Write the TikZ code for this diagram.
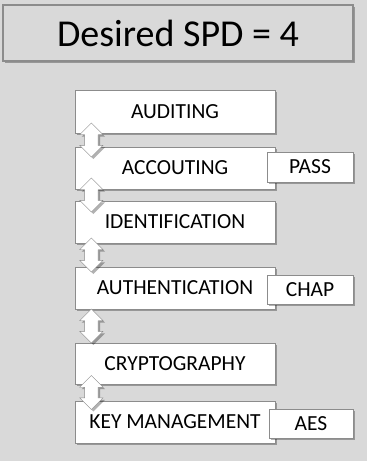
\documentclass[tikz,border=0pt]{standalone}
\usepackage{fontspec}
\setmainfont{Carlito}
\usetikzlibrary{shapes.arrows, shadows, calc}
\definecolor{bg}{RGB}{217,217,217}
\definecolor{edge}{RGB}{140,140,140}

\begin{document}
\begin{tikzpicture}[x=1pt,y=-1pt,
  shade box/.style={drop shadow={shadow xshift=2pt,shadow yshift=-2pt,fill=black,opacity=0.3}},
  layer/.style={rectangle,draw=edge,fill=white,shade box,inner sep=0pt,
    minimum width=200pt,minimum height=42pt,font=\fontsize{21.5}{21.5}\selectfont},
  proto/.style={layer,minimum width=86pt,minimum height=30pt},
  link/.style={double arrow,draw=edge,fill=white,shade box,inner sep=6.5pt,
    shape border rotate=90,minimum height=34pt,double arrow head extend=5pt}]
  \fill[bg] (0,0) rectangle (367,461);
  \useasboundingbox (0,0) rectangle (367,461);
  \node[rectangle,draw=edge,line width=1.2pt,fill=bg,shade box,minimum width=350pt,
    minimum height=56pt,font=\fontsize{38}{38}\selectfont] (title) at (178,33) {Desired SPD = 4};
  % layers
  \node[layer,minimum height=43pt] (audit) at (175,111.5) {AUDITING};
  \node[layer] (account) at (175,168) {ACCOUTING};
  \node[layer] (ident) at (175,222) {IDENTIFICATION};
  \node[layer] (auth) at (175,288) {AUTHENTICATION};
  \node[layer,minimum height=41pt] (crypto) at (175,363.5) {CRYPTOGRAPHY};
  \node[layer] (keymgmt) at (175,422) {KEY MANAGEMENT};
  % protocols
  \node[proto] (pass) at (310,167) {PASS};
  \node[proto,minimum height=29pt] (chap) at (310,289.5) {CHAP};
  \node[proto,minimum width=84pt,minimum height=29pt] (aes) at (311,423.5) {AES};
  % links
  \node[link] (l1) at ($(audit.south west)!0.5!(account.north west)+(16.5,0)$) {};
  \node[link] (l2) at ($(account.south west)!0.5!(ident.north west)+(16.5,0)$) {};
  \node[link] (l3) at ($(ident.south west)!0.5!(auth.north west)+(16.5,0)$) {};
  \node[link] (l4) at ($(auth.south west)!0.5!(crypto.north west)+(16.5,0)$) {};
  \node[link] (l5) at ($(crypto.south west)!0.5!(keymgmt.north west)+(16.5,0)$) {};
\end{tikzpicture}
\end{document}
